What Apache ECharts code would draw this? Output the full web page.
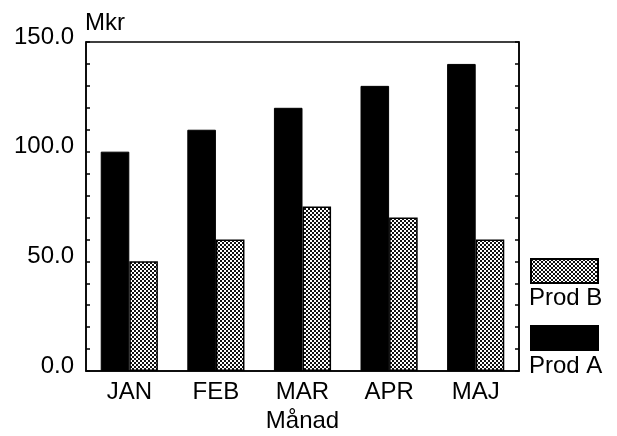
<!DOCTYPE html>
<html>
<head>
<meta charset="utf-8">
<script src="https://cdn.jsdelivr.net/npm/echarts@6/dist/echarts.min.js"></script>
<style>
  html, body { margin: 0; padding: 0; background: #fff; }
  #chart { width: 617px; height: 436px; }
</style>
</head>
<body>
<div id="chart"></div>
<script>
// Monthly sales (Mkr) for two products
var months = ['JAN', 'FEB', 'MAR', 'APR', 'MAJ'];
var prodA = [100, 110, 120, 130, 140];
var prodB = [50, 60, 75, 70, 60];
var yTicks = [0, 50, 100, 150];

// Stippled fill for Prod B: fine checkerboard dots
function stipple() {
  var c = document.createElement('canvas');
  c.width = 4; c.height = 4;
  var g = c.getContext('2d');
  g.fillStyle = '#ffffff';
  g.fillRect(0, 0, 4, 4);
  g.fillStyle = '#111111';
  g.fillRect(0, 0, 2, 2);
  g.fillRect(2, 2, 2, 2);
  return c;
}

var FONT = '"Liberation Sans", Arial, Helvetica, sans-serif';
var FS = 24;
var chart = echarts.init(document.getElementById('chart'), null, { renderer: 'canvas' });

var yAxisBase = {
  type: 'value',
  min: yTicks[0],
  max: yTicks[yTicks.length - 1],
  interval: 50,
  splitLine: { show: false },
  axisLine: { show: true, lineStyle: { color: '#000', width: 1.5 } },
  axisTick: { show: true, inside: true, length: 4, lineStyle: { color: '#000', width: 1.5 } },
  minorTick: { show: true, splitNumber: 5, length: 4, lineStyle: { color: '#000', width: 1.5 } }
};

chart.setOption({
  animation: false,
  backgroundColor: '#fff',
  grid: {
    left: 86, right: 98, top: 42, bottom: 65,
    outerBoundsMode: 'none',
    containLabel: false,
    show: true, borderColor: '#000', borderWidth: 1.5, backgroundColor: 'transparent'
  },
  xAxis: {
    type: 'category',
    data: months,
    name: 'Månad',
    nameLocation: 'middle',
    nameGap: 35,
    nameTextStyle: { fontFamily: FONT, fontSize: FS, color: '#000' },
    axisLine: { show: true, lineStyle: { color: '#000', width: 1.5 } },
    axisTick: { show: false },
    axisLabel: { fontFamily: FONT, fontSize: FS, color: '#000', margin: 9 }
  },
  yAxis: [
    Object.assign({}, yAxisBase, {
      position: 'left',
      name: 'Mkr',
      nameLocation: 'end',
      nameGap: 7,
      nameTextStyle: { fontFamily: FONT, fontSize: FS, color: '#000', align: 'left', padding: [0, 0, 0, -1] },
      axisLabel: {
        fontFamily: FONT, fontSize: FS, color: '#000', margin: 12,
        verticalAlign: 'bottom', lineHeight: 10,
        formatter: function (v) { return v.toFixed(1); }
      }
    }),
    Object.assign({}, yAxisBase, {
      position: 'right',
      axisLabel: { show: false }
    })
  ],
  legend: [
    {
      data: ['Prod B'], left: 530, top: 258, orient: 'vertical', padding: 0,
      icon: 'rect', itemWidth: 67, itemHeight: 24, itemGap: 0,
      formatter: function () { return ''; }, textStyle: { fontSize: 1 }, selectedMode: false
    },
    {
      data: ['Prod A'], left: 530, top: 325, orient: 'vertical', padding: 0,
      icon: 'rect', itemWidth: 67, itemHeight: 24, itemGap: 0,
      formatter: function () { return ''; }, textStyle: { fontSize: 1 }, selectedMode: false
    }
  ],
  graphic: [
    { type: 'text', left: 529, top: 286, style: { text: 'Prod B', font: FS + 'px ' + FONT, fill: '#000' } },
    { type: 'text', left: 529, top: 354, style: { text: 'Prod A', font: FS + 'px ' + FONT, fill: '#000' } }
  ],
  series: [
    {
      name: 'Prod A',
      type: 'bar',
      data: prodA,
      barGap: '0%',
      barCategoryGap: '34%',
      itemStyle: { color: '#000', borderColor: '#000', borderWidth: 1 }
    },
    {
      name: 'Prod B',
      type: 'bar',
      data: prodB,
      itemStyle: {
        color: { image: stipple(), repeat: 'repeat' },
        borderColor: '#000', borderWidth: 1.5
      }
    }
  ]
});
</script>
</body>
</html>
